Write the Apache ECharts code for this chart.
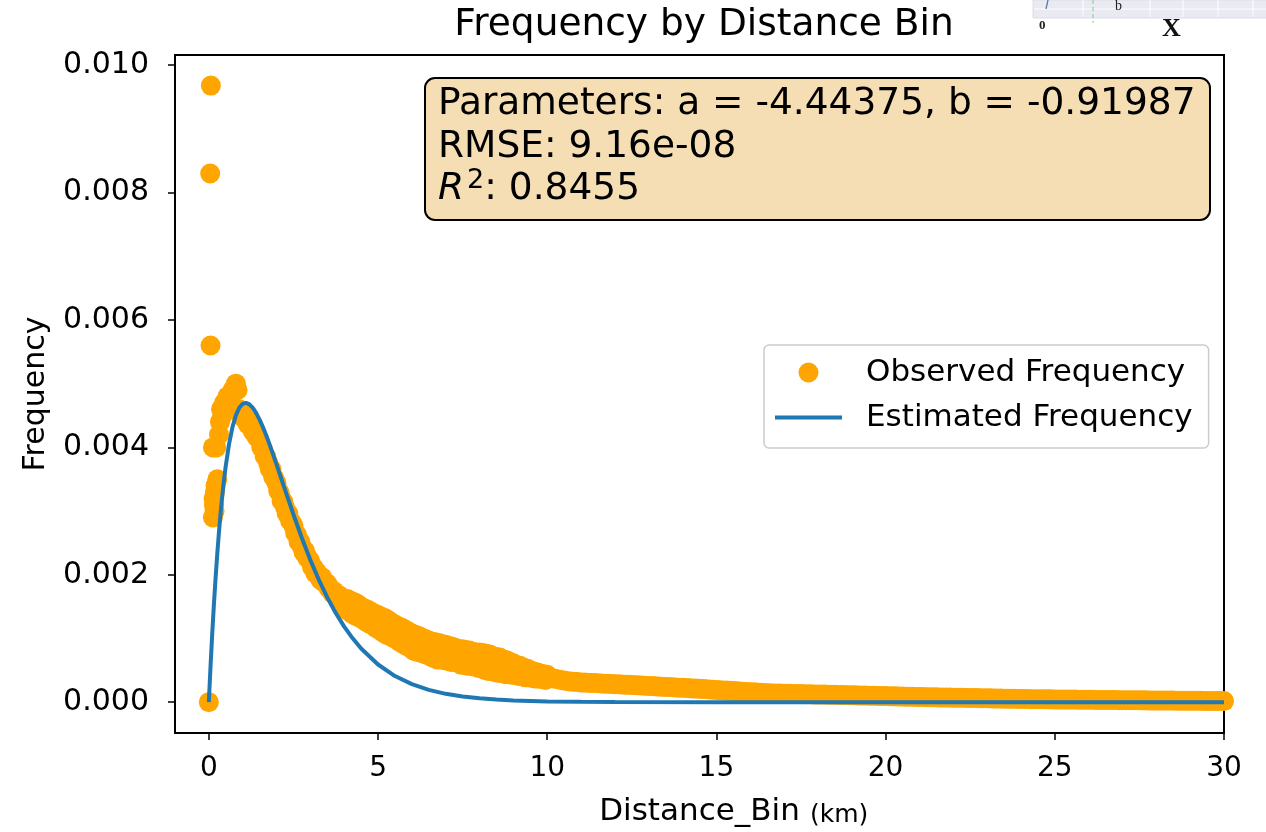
<!DOCTYPE html>
<html>
<head>
<meta charset="utf-8">
<script src="https://cdn.jsdelivr.net/npm/echarts@6/dist/echarts.min.js"></script>
<style>html,body{margin:0;padding:0;background:#fff}#c{width:1266px;height:832px}</style>
</head>
<body>
<div id="c"></div>
<script>
// ---- data ----
const xTicks = [0, 5, 10, 15, 20, 25, 30];
const yTicks = [0, 0.002, 0.004, 0.006, 0.008, 0.010];

const obsDistance = [
  0, 0.04, 0.06, 0.05, 0.12, 0.22, 0.12, 0.15, 0.18, 0.20, 0.25, 0.17, 0.14,
  0.30, 0.33, 0.36, 0.40, 0.45, 0.50, 0.55, 0.60, 0.65, 0.70, 0.75, 0.80, 0.85, 0.90, 0.95,
  1.00, 1.05, 1.10, 1.15, 1.20, 1.25, 1.30, 1.35, 1.40, 1.45, 1.50, 1.55, 1.60, 1.65, 1.70, 1.75, 1.80, 1.85, 1.90, 1.95,
  2.00, 2.05, 2.10, 2.15, 2.20, 2.25, 2.30, 2.35, 2.40, 2.45, 2.50, 2.55, 2.60, 2.65, 2.70, 2.75, 2.80, 2.85, 2.90, 2.95,
  3.00, 3.05, 3.10, 3.15, 3.20, 3.25, 3.30, 3.35, 3.40, 3.45, 3.50, 3.55, 3.60, 3.65, 3.70, 3.75, 3.80, 3.85, 3.90, 3.95, 4.00,
  4.05, 4.10, 4.15, 4.20, 4.25, 4.30, 4.35, 4.40, 4.45, 4.50, 4.55, 4.60, 4.65, 4.70, 4.75, 4.80, 4.85, 4.90, 4.95, 5.00,
  5.05, 5.10, 5.15, 5.20, 5.25, 5.30, 5.35, 5.40, 5.45, 5.50, 5.55, 5.60, 5.65, 5.70, 5.75, 5.80, 5.85, 5.90, 5.95, 6.00,
  6.05, 6.10, 6.15, 6.20, 6.25, 6.30, 6.35, 6.40, 6.45, 6.50, 6.55, 6.60, 6.65, 6.70, 6.75, 6.80, 6.85, 6.90, 6.95, 7.00,
  7.05, 7.10, 7.15, 7.20, 7.25, 7.30, 7.35, 7.40, 7.45, 7.50, 7.55, 7.60, 7.65, 7.70, 7.75, 7.80, 7.85, 7.90, 7.95, 8.00,
  8.05, 8.10, 8.15, 8.20, 8.25, 8.30, 8.35, 8.40, 8.45, 8.50, 8.55, 8.60, 8.65, 8.70, 8.75, 8.80, 8.85, 8.90, 8.95, 9.00,
  9.05, 9.10, 9.15, 9.20, 9.25, 9.30, 9.35, 9.40, 9.45, 9.50, 9.55, 9.60, 9.65, 9.70, 9.75, 9.80, 9.85, 9.90, 9.95, 10.00,
  10.1, 10.2, 10.3, 10.4, 10.5, 10.6, 10.7, 10.8, 10.9, 11.0, 11.1, 11.2, 11.3, 11.4, 11.5, 11.6, 11.7, 11.8, 11.9, 12.0,
  12.1, 12.2, 12.3, 12.4, 12.5, 12.6, 12.7, 12.8, 12.9, 13.0, 13.1, 13.2, 13.3, 13.4, 13.5, 13.6, 13.7, 13.8, 13.9, 14.0,
  14.1, 14.2, 14.3, 14.4, 14.5, 14.6, 14.7, 14.8, 14.9, 15.0, 15.1, 15.2, 15.3, 15.4, 15.5, 15.6, 15.7, 15.8, 15.9, 16.0,
  16.1, 16.2, 16.3, 16.4, 16.5, 16.6, 16.7, 16.8, 16.9, 17.0, 17.1, 17.2, 17.3, 17.4, 17.5, 17.6, 17.7, 17.8, 17.9, 18.0,
  18.1, 18.2, 18.3, 18.4, 18.5, 18.6, 18.7, 18.8, 18.9, 19.0, 19.1, 19.2, 19.3, 19.4, 19.5, 19.6, 19.7, 19.8, 19.9, 20.0,
  20.1, 20.2, 20.3, 20.4, 20.5, 20.6, 20.7, 20.8, 20.9, 21.0, 21.1, 21.2, 21.3, 21.4, 21.5, 21.6, 21.7, 21.8, 21.9, 22.0,
  22.1, 22.2, 22.3, 22.4, 22.5, 22.6, 22.7, 22.8, 22.9, 23.0, 23.1, 23.2, 23.3, 23.4, 23.5, 23.6, 23.7, 23.8, 23.9, 24.0,
  24.1, 24.2, 24.3, 24.4, 24.5, 24.6, 24.7, 24.8, 24.9, 25.0, 25.1, 25.2, 25.3, 25.4, 25.5, 25.6, 25.7, 25.8, 25.9, 26.0,
  26.1, 26.2, 26.3, 26.4, 26.5, 26.6, 26.7, 26.8, 26.9, 27.0, 27.1, 27.2, 27.3, 27.4, 27.5, 27.6, 27.7, 27.8, 27.9, 28.0,
  28.1, 28.2, 28.3, 28.4, 28.5, 28.6, 28.7, 28.8, 28.9, 29.0, 29.1, 29.2, 29.3, 29.4, 29.5, 29.6, 29.7, 29.8, 29.9, 30.0,
  30.1, 30.2, 30.3, 30.4, 30.5
];
const obsFrequency = [
  0, 0.0083, 0.00968, 0.0056, 0.0040, 0.0040, 0.0029, 0.0031, 0.0033, 0.0034, 0.0035, 0.0030, 0.0032,
  0.0042, 0.0044, 0.0046, 0.0045, 0.0047, 0.0047, 0.0048, 0.0047, 0.0048, 0.0049, 0.0049, 0.0050, 0.0049, 0.0046, 0.0045,
  0.00453, 0.00445, 0.00445, 0.00436, 0.00438, 0.00432, 0.00425, 0.00427, 0.00417, 0.00415, 0.00411, 0.00400, 0.00397, 0.00386, 0.00385, 0.00376, 0.00366, 0.00366, 0.00354, 0.00350,
  0.00344, 0.00332, 0.00328, 0.00316, 0.00315, 0.00306, 0.00296, 0.00296, 0.00285, 0.00282, 0.00277, 0.00266, 0.00263, 0.00252, 0.00252, 0.00244, 0.00235, 0.00237, 0.00227, 0.00225,
  0.00221, 0.00212, 0.00211, 0.00202, 0.00204, 0.00198, 0.00192, 0.00196, 0.00188, 0.00188, 0.00186, 0.00178, 0.00178, 0.00171, 0.00174, 0.00169, 0.00163, 0.00168, 0.00160, 0.00161, 0.00159,
  0.00146, 0.00162, 0.00142, 0.00159, 0.00138, 0.00157, 0.00135, 0.00154, 0.00133, 0.00150, 0.00130, 0.00147, 0.00126, 0.00145, 0.00123, 0.00142, 0.00120, 0.00139, 0.00116, 0.00137,
  0.00113, 0.00134, 0.00109, 0.00132, 0.00106, 0.00129, 0.00104, 0.00125, 0.00101, 0.00122, 0.00098, 0.00119, 0.00094, 0.00117, 0.00091, 0.00114, 0.00088, 0.00111, 0.00085, 0.00108,
  0.00081, 0.00106, 0.00079, 0.00104, 0.00078, 0.00101, 0.00076, 0.00099, 0.00074, 0.00097, 0.00072, 0.00095, 0.00069, 0.00094, 0.00067, 0.00093, 0.00067, 0.00091, 0.00066, 0.00090,
  0.00065, 0.00088, 0.00063, 0.00087, 0.00063, 0.00085, 0.00062, 0.00083, 0.00059, 0.00083, 0.00058, 0.00082, 0.00057, 0.00081, 0.00057, 0.00079, 0.00056, 0.00078, 0.00054, 0.00078,
  0.00053, 0.00077, 0.00051, 0.00076, 0.00049, 0.00075, 0.00049, 0.00072, 0.00047, 0.00071, 0.00046, 0.00070, 0.00046, 0.00067, 0.00044, 0.00066, 0.00044, 0.00063, 0.00043, 0.00061,
  0.00043, 0.00058, 0.00041, 0.00057, 0.00041, 0.00054, 0.00039, 0.00053, 0.00039, 0.00050, 0.00038, 0.00048, 0.00037, 0.00047, 0.00037, 0.00045, 0.00036, 0.00044, 0.00035, 0.00043,
  0.000380, 0.000370, 0.000360, 0.000350, 0.000340, 0.000330, 0.000325, 0.000320, 0.000315, 0.000310, 0.000307, 0.000305, 0.000302, 0.000299, 0.000297, 0.000294, 0.000291, 0.000289, 0.000286, 0.000283,
  0.000281, 0.000278, 0.000275, 0.000273, 0.000270, 0.000267, 0.000264, 0.000261, 0.000258, 0.000255, 0.000252, 0.000249, 0.000246, 0.000243, 0.000240, 0.000237, 0.000234, 0.000231, 0.000228, 0.000225,
  0.000222, 0.000219, 0.000216, 0.000213, 0.000210, 0.000206, 0.000203, 0.000199, 0.000196, 0.000192, 0.000189, 0.000185, 0.000182, 0.000178, 0.000175, 0.000171, 0.000168, 0.000164, 0.000161, 0.000157,
  0.000154, 0.000150, 0.000147, 0.000143, 0.000140, 0.000139, 0.000137, 0.000136, 0.000135, 0.000134, 0.000132, 0.000131, 0.000130, 0.000129, 0.000127, 0.000126, 0.000125, 0.000124, 0.000122, 0.000121,
  0.000120, 0.000119, 0.000117, 0.000116, 0.000115, 0.000114, 0.000112, 0.000111, 0.000110, 0.000108, 0.000107, 0.000106, 0.000104, 0.000103, 0.000102, 0.000100, 0.000099, 0.000098, 0.000096, 0.000095,
  0.000094, 0.000092, 0.000091, 0.000090, 0.000088, 0.000087, 0.000086, 0.000084, 0.000083, 0.000082, 0.000080, 0.000079, 0.000078, 0.000077, 0.000076, 0.000075, 0.000074, 0.000073, 0.000072, 0.000071,
  0.000070, 0.000069, 0.000068, 0.000067, 0.000066, 0.000065, 0.000064, 0.000063, 0.000062, 0.000061, 0.000060, 0.000058, 0.000057, 0.000056, 0.000055, 0.000054, 0.000053, 0.000052, 0.000051, 0.000050,
  0.000049, 0.000048, 0.000047, 0.000046, 0.000046, 0.000045, 0.000045, 0.000044, 0.000044, 0.000043, 0.000042, 0.000042, 0.000041, 0.000041, 0.000040, 0.000040, 0.000039, 0.000038, 0.000038, 0.000037,
  0.000037, 0.000036, 0.000036, 0.000035, 0.000035, 0.000034, 0.000033, 0.000033, 0.000032, 0.000032, 0.000031, 0.000031, 0.000031, 0.000030, 0.000030, 0.000029, 0.000029, 0.000028, 0.000028, 0.000027,
  0.000027, 0.000026, 0.000026, 0.000025, 0.000025, 0.000024, 0.000024, 0.000023, 0.000023, 0.000022, 0.000022, 0.000021, 0.000021, 0.000020, 0.000020, 0.000019, 0.000019, 0.000018, 0.000018, 0.000017,
  0.000017, 0.000016, 0.000016, 0.000015, 0.000015
];

const estDistance = [0, 0.02, 0.05, 0.1, 0.15, 0.2, 0.25, 0.3, 0.35, 0.4, 0.45, 0.5, 0.6, 0.7, 0.8, 0.9, 1.0, 1.1, 1.2, 1.3,
  1.4, 1.5, 1.6, 1.7, 1.8, 2.0, 2.25, 2.5, 2.75, 3.0, 3.25, 3.5, 3.75, 4.0, 4.25, 4.5, 5.0, 5.5, 6, 6.5, 7, 7.5, 8, 8.5,
  9, 10, 11, 12, 15, 20, 25, 30];
const estFrequency = [0, 0.000231, 0.000561, 0.001072, 0.001536, 0.001955, 0.002334, 0.002675, 0.002981, 0.003254,
  0.003496, 0.003710, 0.004060, 0.004321, 0.004504, 0.004622, 0.004684, 0.004700, 0.004676, 0.004621,
  0.004539, 0.004436, 0.004316, 0.004182, 0.004039, 0.003734, 0.003338, 0.002947, 0.002575, 0.002232, 0.001922,
  0.001644, 0.001400, 0.001186, 0.001002, 0.000842, 0.000591, 0.000410, 0.000283, 0.000193, 0.000131, 0.0000889,
  0.0000599, 0.0000401, 0.0000268, 0.0000119, 0.0000052, 0.0000023, 0.0000002, 0, 0, 0];

const titleText = 'Frequency by Distance Bin';
const xLabel = 'Distance_Bin';
const xUnit = '(km)';
const yLabel = 'Frequency';
const legendNames = ['Observed Frequency', 'Estimated Frequency'];
const statLines = ['Parameters: a = -4.44375, b = -0.91987', 'RMSE: 9.16e-08', '0.8455'];

// ---- chart ----
const FONT = 'DejaVu Sans';
const chart = echarts.init(document.getElementById('c'));
const obsData = obsDistance.map((d, i) => [d, obsFrequency[i]]);
const estData = estDistance.map((d, i) => [d, estFrequency[i]]);

chart.setOption({
  animation: false,
  backgroundColor: '#ffffff',
  textStyle: { fontFamily: FONT },
  title: {
    text: titleText,
    left: 699, top: 1, textAlign: 'center',
    textStyle: { fontFamily: FONT, fontSize: 37.5, fontWeight: 'normal', color: '#000' }
  },
  grid: {
    left: 175, right: 42, top: 55, bottom: 95,
    show: true, borderColor: '#000', borderWidth: 2, backgroundColor: 'transparent'
  },
  xAxis: {
    type: 'value', min: -1, max: 30,
    name: xLabel, nameLocation: 'middle', nameGap: 63,
    nameTextStyle: { fontFamily: FONT, fontSize: 31, color: '#000' },
    axisLine: { show: false, onZero: false },
    axisTick: { show: true, inside: false, length: 7, customValues: xTicks, lineStyle: { color: '#000', width: 1.5 } },
    axisLabel: { customValues: xTicks, fontFamily: FONT, fontSize: 28, color: '#000', margin: 22 },
    splitLine: { show: false }
  },
  yAxis: {
    type: 'value', min: -0.000484, max: 0.01016,
    name: yLabel, nameLocation: 'middle', nameGap: 124, nameRotate: 90,
    nameTextStyle: { fontFamily: FONT, fontSize: 30, color: '#000' },
    axisLine: { show: false, onZero: false },
    axisTick: { show: true, inside: false, length: 7, customValues: yTicks, lineStyle: { color: '#000', width: 1.5 } },
    axisLabel: { customValues: yTicks, fontFamily: FONT, fontSize: 30, color: '#000', margin: 26,
      formatter: v => v.toFixed(3) },
    splitLine: { show: false }
  },
  legend: {
    orient: 'vertical', left: 764, top: 345,
    padding: [12, 16, 15, 11],
    itemGap: 14, itemWidth: 67, itemHeight: 20,
    backgroundColor: 'rgba(255,255,255,0.8)', borderColor: '#cccccc', borderWidth: 1.5, borderRadius: 5,
    textStyle: { fontFamily: FONT, fontSize: 31, color: '#000', lineHeight: 30, padding: [0, 0, 0, 19] },
    data: [
      { name: legendNames[0], icon: 'circle' },
      { name: legendNames[1], icon: 'path://M0,0 L67,0 L67,4 L0,4 Z' }
    ]
  },
  series: [
    {
      name: legendNames[0], type: 'scatter', data: obsData, symbol: 'circle', symbolSize: 20,
      itemStyle: { color: '#FFA500', opacity: 1 }, z: 2, clip: true
    },
    {
      name: legendNames[1], type: 'line', data: estData, showSymbol: false, symbol: 'none',
      lineStyle: { color: '#1f77b4', width: 4 }, itemStyle: { color: '#1f77b4' }, z: 3, clip: true
    }
  ],
  graphic: [
    { type: 'rect', z: 100, shape: { x: 425, y: 78, width: 785, height: 142, r: 10 },
      style: { fill: '#F5DEB3', stroke: '#000', lineWidth: 2 } },
    { type: 'text', z: 101, style: { x: 438, y: 104, text: statLines[0], fontFamily: FONT, fontSize: 37.5, fill: '#000', verticalAlign: 'middle' } },
    { type: 'text', z: 101, style: { x: 438, y: 147, text: statLines[1], fontFamily: FONT, fontSize: 37.5, fill: '#000', verticalAlign: 'middle' } },
    { type: 'text', z: 101, style: { x: 438, y: 189, text: '{i|R}{s|2}{n|: ' + statLines[2] + '}', fontFamily: FONT, fill: '#000', verticalAlign: 'middle',
        rich: {
          i: { fontFamily: FONT, fontSize: 37.5, fontStyle: 'italic', fill: '#000' },
          s: { fontFamily: FONT, fontSize: 27, fill: '#000', verticalAlign: 'top', padding: [0, 0, 16, 3] },
          n: { fontFamily: FONT, fontSize: 37.5, fill: '#000' }
        } } },
    { type: 'text', z: 100, style: { x: 810, y: 815, text: xUnit, fontFamily: FONT, fontSize: 25, fill: '#000', verticalAlign: 'middle' } },
    // overlapping fragment in the top-right corner
    { type: 'rect', z: 200, shape: { x: 1033, y: 0, width: 240, height: 18 }, style: { fill: '#EAEAF2', stroke: '#dcdce6', lineWidth: 1 } },
    { type: 'line', z: 201, shape: { x1: 1034, y1: 9, x2: 1266, y2: 9 }, style: { stroke: '#fff', lineWidth: 1 } },
    { type: 'line', z: 201, shape: { x1: 1083, y1: 0, x2: 1083, y2: 17 }, style: { stroke: '#fff', lineWidth: 1 } },
    { type: 'line', z: 201, shape: { x1: 1150, y1: 0, x2: 1150, y2: 17 }, style: { stroke: '#fff', lineWidth: 1 } },
    { type: 'line', z: 201, shape: { x1: 1183, y1: 0, x2: 1183, y2: 17 }, style: { stroke: '#fff', lineWidth: 1 } },
    { type: 'line', z: 201, shape: { x1: 1218, y1: 0, x2: 1218, y2: 17 }, style: { stroke: '#fff', lineWidth: 1 } },
    { type: 'line', z: 201, shape: { x1: 1253, y1: 0, x2: 1253, y2: 17 }, style: { stroke: '#fff', lineWidth: 1 } },
    { type: 'line', z: 202, shape: { x1: 1048, y1: 0, x2: 1046, y2: 9 }, style: { stroke: '#4c72b0', lineWidth: 1.2 } },
    { type: 'line', z: 202, shape: { x1: 1093, y1: 0, x2: 1093, y2: 23 }, style: { stroke: '#8fd19e', lineWidth: 1.2, lineDash: [4, 3] } },
    { type: 'text', z: 202, style: { x: 1115, y: 6, text: 'b', fontFamily: 'Liberation Serif', fontSize: 14, fill: '#222', verticalAlign: 'middle' } },
    { type: 'text', z: 202, style: { x: 1039, y: 26, text: '0', fontFamily: 'Liberation Serif', fontWeight: 'bold', fontSize: 13, fill: '#222', verticalAlign: 'middle' } },
    { type: 'text', z: 202, style: { x: 1162, y: 29, text: 'X', fontFamily: 'Liberation Serif', fontWeight: 'bold', fontSize: 26, fill: '#111', verticalAlign: 'middle' } }
  ]
});
</script>
</body>
</html>
